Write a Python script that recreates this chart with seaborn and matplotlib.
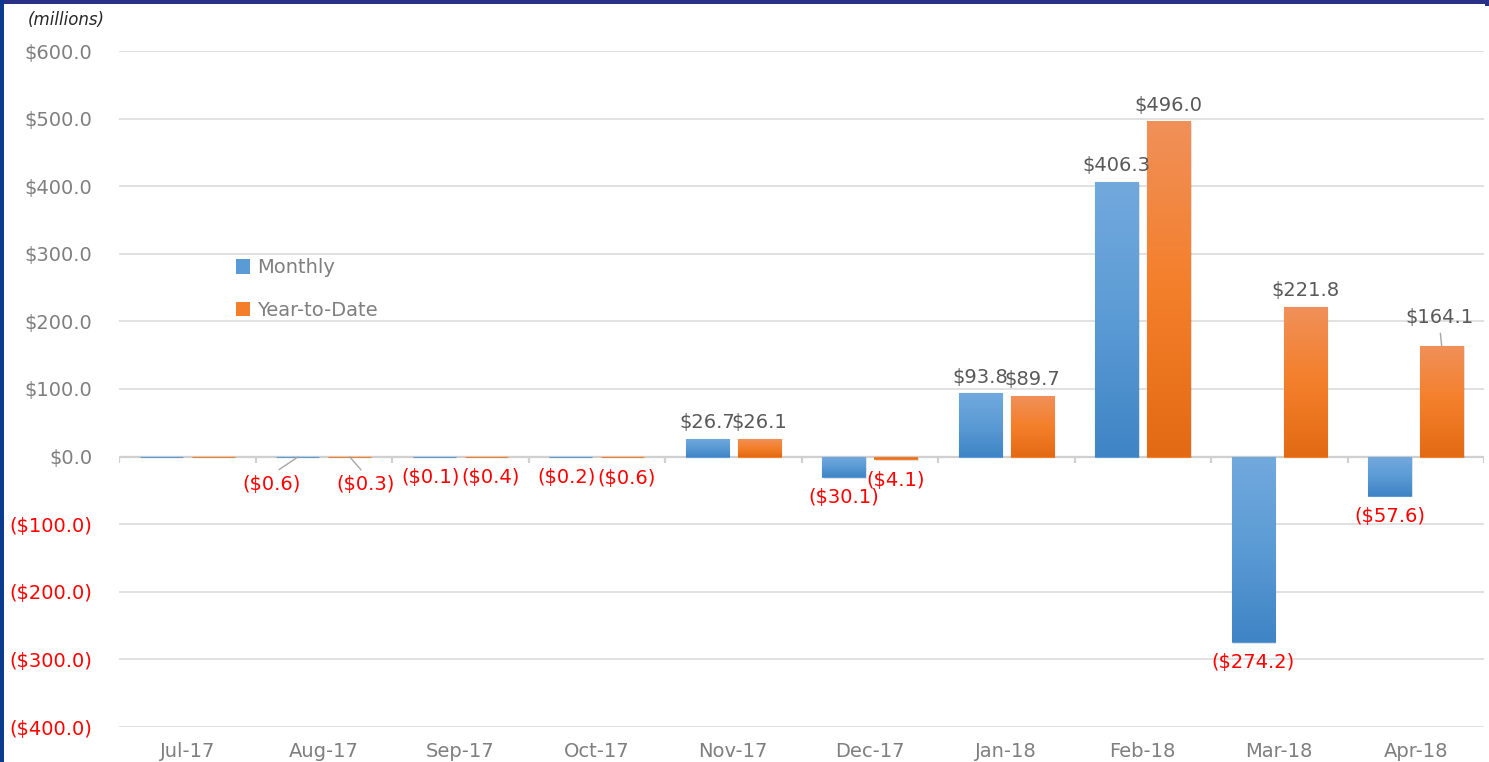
import numpy as np
import pandas as pd
import matplotlib
matplotlib.use("Agg")
import matplotlib.pyplot as plt
import seaborn as sns
from matplotlib.patches import Rectangle
from matplotlib.colors import to_rgb

# ---------------- data ----------------
months = ["Jul-17", "Aug-17", "Sep-17", "Oct-17", "Nov-17",
          "Dec-17", "Jan-18", "Feb-18", "Mar-18", "Apr-18"]
monthly = [0.0, -0.6, -0.1, -0.2, 26.7, -30.1, 93.8, 406.3, -274.2, -57.6]
ytd = [0.0, -0.3, -0.4, -0.6, 26.1, -4.1, 89.7, 496.0, 221.8, 164.1]
series = ["Monthly", "Year-to-Date"]
yticks = [-400, -300, -200, -100, 0, 100, 200, 300, 400, 500, 600]

# ---------------- style ----------------
W, H = 1489, 762
base_colors = {"Monthly": "#5b9bd5", "Year-to-Date": "#f47f2a"}
grad_stops = {"Monthly": ["#72a9dd", "#5b9bd5", "#3f84c5"],
              "Year-to-Date": ["#f09059", "#f47f2a", "#e36a15"]}
pos_color = "#595959"
tick_gray = "#7f7f7f"
neg_color = "#ff0000"
FS = 14

sns.set_theme(style="white")
plt.rcParams["font.family"] = ["DejaVu Sans"]

df = pd.DataFrame({
    "Month": months * 2,
    "Series": [series[0]] * len(months) + [series[1]] * len(months),
    "Value": monthly + ytd,
})

fig = plt.figure(figsize=(W / 100, H / 100), dpi=100)
fig.patch.set_facecolor("white")
ax = fig.add_axes([119 / W, 1 - 727 / H, (1484 - 119) / W, (727 - 51) / H])

sns.barplot(data=df, x="Month", y="Value", hue="Series", hue_order=series,
            order=months, palette=base_colors, width=0.76, gap=0.17,
            errorbar=None, legend=False, ax=ax, zorder=3, linewidth=0)

ax.set_xlim(-0.5, len(months) - 0.5)
ax.set_ylim(-400, 600)

# gradient fill + thin edge for each bar
for s, cont in zip(series, ax.containers):
    stops = np.array([to_rgb(c) for c in grad_stops[s]])
    t = np.linspace(0, 1, 128)
    grad = np.stack([np.interp(t, [0, 0.5, 1], stops[:, k]) for k in range(3)], axis=1)
    grad = grad[:, None, :]
    for bar in cont:
        bar.set_edgecolor(base_colors[s])
        bar.set_linewidth(0.8)
        x0, y0, w, h = bar.get_x(), bar.get_y(), bar.get_width(), bar.get_height()
        if abs(h) < 1:
            continue
        ylo, yhi = min(y0, y0 + h), max(y0, y0 + h)
        # soft shadow
        ax.add_patch(Rectangle((x0 + 0.012, ylo - 2.5), w, yhi - ylo,
                               facecolor="#000000", alpha=0.10, lw=0, zorder=2.8))
        im = ax.imshow(grad, extent=(x0, x0 + w, ylo, yhi), origin="upper",
                       aspect="auto", interpolation="bilinear", zorder=3.2)
        im.set_clip_path(bar)

ax.set_xlim(-0.5, len(months) - 0.5)
ax.set_ylim(-400, 600)
ax.set_xlabel("")
ax.set_ylabel("")

# grid, zero line and category ticks
ax.set_yticks(yticks)
ax.yaxis.grid(True, color="#d9d9d9", lw=1.1, zorder=0)
ax.xaxis.grid(False)
ax.set_axisbelow(True)
ax.axhline(0, color="#d0d0d0", lw=1.6, zorder=2.5)
ax.vlines(np.arange(-0.5, len(months)), -9, 0, color="#d0d0d0", lw=1.6, zorder=2.5)
for sp in ax.spines.values():
    sp.set_visible(False)

def money(v):
    return f"(${abs(v):.1f})" if v < 0 else f"${v:.1f}"

ax.set_yticklabels([money(v) for v in yticks], fontsize=FS)
for lab, v in zip(ax.get_yticklabels(), yticks):
    lab.set_color(neg_color if v < 0 else tick_gray)
ax.tick_params(axis="y", length=0, pad=19)
ax.tick_params(axis="x", length=0, pad=11, labelsize=FS, labelcolor=tick_gray)

# data labels
special = {("Monthly", "Aug-17"): (-26, -27), ("Year-to-Date", "Aug-17"): (16, -28),
           ("Year-to-Date", "Apr-18"): (-2, 28)}
nudge = {("Monthly", "Sep-17"): (-4, -21), ("Year-to-Date", "Sep-17"): (4, -21),
         ("Monthly", "Oct-17"): (-4, -21), ("Year-to-Date", "Oct-17"): (4, -21)}
for s, vals, cont in zip(series, [monthly, ytd], ax.containers):
    for m, v, bar in zip(months, vals, cont):
        if v == 0:
            continue
        xc = bar.get_x() + bar.get_width() / 2
        col = neg_color if v < 0 else pos_color
        off = special.get((s, m), nudge.get((s, m), (0, 16) if v > 0 else (0, -21)))
        kw = {}
        if (s, m) in special:
            kw["arrowprops"] = dict(arrowstyle="-", color="#a6a6a6", lw=1,
                                    shrinkA=2, shrinkB=0,
                                    relpos=(0.5, 1) if v < 0 else (0.5, 0))
        ax.annotate(money(v), xy=(xc, v), xytext=off, textcoords="offset pixels",
                    ha="center", va="center", fontsize=FS, color=col,
                    zorder=5, **kw)

# legend
handles = [Rectangle((0, 0), 1, 1, facecolor=base_colors[s], edgecolor="none") for s in series]
fig.legend(handles, series, loc="center left", bbox_to_anchor=(226 / W, 1 - 289 / H),
           frameon=False, fontsize=FS, labelcolor=tick_gray, handlelength=0.75,
           handleheight=0.75, handletextpad=0.35, labelspacing=1.2, borderpad=0)

# units label
fig.text(28 / W, 1 - 20 / H, "(millions)", fontsize=12, style="italic",
         color="#262626", va="center", ha="left")

# frame border strips
fig.add_artist(Rectangle((0, 1 - 4 / H), 1, 4 / H, transform=fig.transFigure,
                         facecolor="#2b3087", edgecolor="none", zorder=10))
fig.add_artist(Rectangle((0, 0), 4 / W, 1, transform=fig.transFigure,
                         facecolor="#0b3a8f", edgecolor="none", zorder=10))
fig.add_artist(Rectangle((1 - 4 / W, 1 - 6 / H), 4 / W, 6 / H, transform=fig.transFigure,
                         facecolor="#2b3087", edgecolor="none", zorder=10))

fig.savefig("out.png", dpi=100)
